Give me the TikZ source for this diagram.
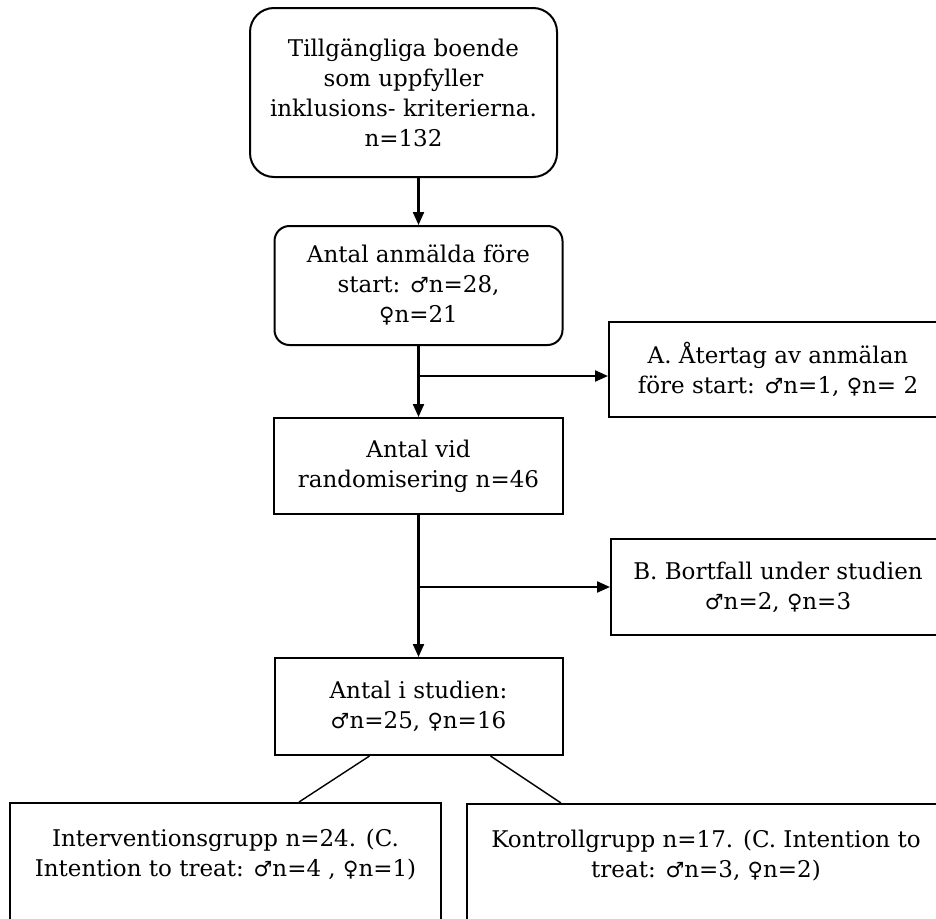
\documentclass[tikz,border=0pt]{standalone}
\usepackage{fontspec}
\setmainfont{DejaVu Serif}
\newfontfamily\symbfont{DejaVu Sans}
\usetikzlibrary{arrows.meta}

\newcommand{\hane}{{\symbfont\fontsize{21}{21}\selectfont\char"2642}}
\newcommand{\hona}{{\symbfont\fontsize{21}{21}\selectfont\char"2640}}

\begin{document}
\begin{tikzpicture}[x=1pt, y=-1pt, >={Triangle[length=13pt,width=11pt]}]

    \tikzset{%
    every box/.style={
        draw,
        line width=2pt,
        align=center,
        inner sep=0pt,
        font=\fontsize{23}{30}\selectfont
        },
    round box/.style={
        every box,
        rounded corners=#1
        },
    open box/.style={
        every box,
        anchor=north,
        text height=73pt,
        text depth=120pt
        },
    flow/.style={
        line width=2.2pt,
        ->
        },
    split/.style={
        line width=1.4pt
        },
    }

    \useasboundingbox (0,0) rectangle (936,918);
    \clip (0,0) rectangle (936,918);

    % Main column
    \node [round box=24pt, minimum width=307pt, minimum height=169pt] (start) at (403.5,92.5)
    {Tillgängliga boende\\ som uppfyller\\ inklusions- kriterierna.\\ n=132};
    \node [round box=15pt, minimum width=288pt, minimum height=119pt] (anmalda) at (418.5,285.5)
    {Antal anmälda före\\ start: \hane n=28,\\ \hona n=21};
    \node [every box, minimum width=289pt, minimum height=96pt] (random) at (418.5,466)
    {Antal vid\\ randomisering n=46};
    \node [every box, minimum width=288pt, minimum height=97pt] (studien) at (418.5,706.5)
    {Antal i studien:\\ \hane n=25, \hona n=16};

    % Drop-outs on the right
    \node [every box, minimum width=338pt, minimum height=95pt] (atertag) at (778,369.5)
    {A. Återtag av anmälan\\ före start: \hane n=1, \hona n= 2};
    \node [every box, minimum width=334pt, minimum height=96pt] (bortfall) at (778,587)
    {B. Bortfall under studien\\ \hane n=2, \hona n=3};

    % Groups at the bottom
    \node [open box, minimum width=431pt] (interv) at (225.5,802)
    {Interventionsgrupp n=24. (C.\\ Intention to treat: \hane n=4 , \hona n=1)};
    \node [open box, minimum width=478pt] (kontroll) at (706,803)
    {Kontrollgrupp n=17. (C. Intention to\\ treat: \hane n=3, \hona n=2)};

    % Branch points
    \coordinate (brA) at (418.5,376);
    \coordinate (brB) at (418.5,587);

    % Arrows down the column
    \draw [flow] (start.south -| anmalda) -- (anmalda.north);
    \draw [flow] (anmalda) -- (random);
    \draw [flow] (random) -- (studien);

    % Arrows to the drop-outs
    \draw [flow] (brA) -- (brA -| atertag.west);
    \draw [flow] (brB) -- (brB -| bortfall.west);

    % Split into the two groups
    \draw [split] ([xshift=-49pt]studien.south) -- ([xshift=73.5pt]interv.north);
    \draw [split] ([xshift=72pt]studien.south) -- ([xshift=-145pt]kontroll.north);

\end{tikzpicture}
\end{document}
